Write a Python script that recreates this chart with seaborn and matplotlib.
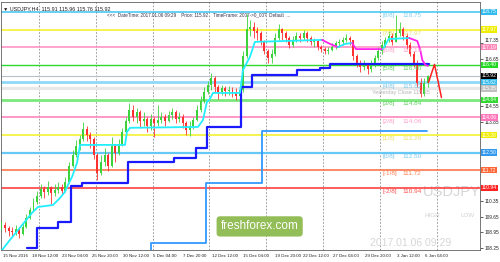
import numpy as np
import pandas as pd
import matplotlib
matplotlib.use('Agg')
import matplotlib.pyplot as plt
import matplotlib.transforms as mtransforms
import seaborn as sns

# ---------------- data ----------------
# composite candles (2 x H4 bars each); bar index = 2*i
close = [109.30, 109.15, 109.00, 108.95, 109.10, 108.90, 109.20, 109.60, 109.95, 110.30,
         110.55, 110.90, 110.75, 110.95, 110.70, 110.85, 110.95, 110.80, 111.20, 111.90,
         112.40, 112.80, 113.10, 113.55, 113.30, 113.10, 112.40, 111.60, 112.10, 112.40,
         111.90, 112.80, 112.50, 112.90, 113.40, 113.90, 114.40, 114.10, 114.30, 113.90,
         114.00, 113.70, 114.00, 113.80, 113.95, 114.10, 113.90, 114.15, 114.30, 114.00,
         114.10, 113.80, 113.50, 113.70, 113.95, 114.40, 114.80, 115.20, 115.50, 115.80,
         115.40, 115.20, 115.35, 115.25, 115.30, 115.15, 115.00, 115.30, 116.80, 118.00,
         118.10, 117.90, 117.80, 117.40, 117.00, 116.70, 116.90, 117.60, 118.00, 117.80,
         117.60, 117.30, 117.50, 117.70, 117.60, 117.80, 117.60, 117.40, 117.45, 117.20,
         117.10, 117.00, 117.05, 117.20, 117.35, 117.40, 117.50, 117.60, 117.50, 116.80,
         116.50, 116.30, 116.40, 116.20, 116.40, 116.70, 117.00, 117.30, 117.50, 117.70,
         117.40, 117.80, 118.00, 117.70, 117.30, 116.90, 116.50, 115.60, 115.10, 115.60,
         115.92]
high = [109.45, 109.40, 109.25, 109.20, 109.30, 109.15, 109.35, 109.75, 110.10, 110.50,
        110.80, 111.10, 111.00, 111.25, 111.00, 111.10, 111.20, 111.10, 111.40, 112.10,
        112.60, 113.05, 113.30, 113.86, 113.70, 113.40, 113.20, 112.50, 112.40, 112.70,
        112.50, 113.20, 112.90, 113.10, 113.60, 114.10, 114.70, 114.60, 114.50, 114.40,
        114.30, 114.10, 114.20, 114.10, 114.60, 114.30, 114.20, 114.35, 114.50, 114.40,
        114.30, 114.20, 113.90, 113.90, 114.10, 114.60, 115.00, 115.40, 115.70, 116.05,
        115.90, 115.50, 115.50, 115.45, 115.45, 115.40, 115.35, 115.45, 117.00, 118.65,
        118.40, 118.30, 118.10, 117.90, 117.50, 117.10, 117.10, 117.80, 118.20, 118.05,
        117.90, 117.70, 117.70, 117.85, 117.80, 117.95, 117.90, 117.70, 117.60, 117.50,
        117.30, 117.20, 117.20, 117.35, 117.45, 117.55, 117.65, 117.75, 117.70, 117.50,
        116.90, 116.60, 116.60, 116.50, 116.60, 116.85, 117.20, 117.45, 117.65, 117.90,
        117.80, 118.60, 118.30, 118.10, 117.80, 117.40, 117.00, 116.60, 115.80, 115.80,
        115.96]
low = [109.05, 108.95, 108.80, 108.75, 108.85, 108.70, 108.85, 109.15, 109.55, 109.90,
       110.20, 110.50, 110.50, 110.60, 110.20, 110.55, 110.70, 110.60, 110.75, 111.15,
       111.85, 112.30, 112.60, 113.00, 113.00, 112.70, 112.20, 111.30, 111.50, 111.90,
       111.70, 111.85, 112.10, 112.40, 112.80, 113.30, 113.80, 113.90, 113.80, 113.60,
       113.70, 113.40, 113.50, 113.20, 113.70, 113.80, 113.70, 113.85, 114.00, 113.80,
       113.85, 113.60, 113.30, 113.25, 113.55, 113.90, 114.30, 114.70, 115.10, 115.30,
       115.20, 114.90, 115.05, 115.00, 115.05, 114.95, 114.85, 114.80, 115.20, 116.70,
       117.70, 117.60, 117.50, 117.30, 116.90, 116.50, 116.50, 116.80, 117.50, 117.50,
       117.40, 117.15, 117.20, 117.40, 117.40, 117.50, 117.40, 117.30, 117.20, 117.05,
       116.95, 116.90, 116.90, 117.00, 117.10, 117.20, 117.30, 117.40, 117.30, 116.60,
       116.30, 116.10, 116.15, 116.00, 116.10, 116.30, 116.60, 116.90, 117.20, 117.40,
       117.30, 117.40, 117.70, 117.50, 117.10, 116.80, 116.30, 115.40, 114.95, 115.00,
       115.40]
first_open = 109.20

# Murrey math levels
mm_levels = [118.75, 117.97, 117.19, 116.40, 115.62, 114.84, 114.06, 113.28, 112.50, 111.72, 110.94]
mm_names = ['[8/8]', '[7/8]', '[6/8]', '[5/8]', '[4/8]', '[3/8]', '[2/8]', '[1/8]', '[0/8]', '[-1/8]', '[-2/8]']
mm_texts = ['118.75', '117.97', '117.19', '116.40', '115.62', '114.84', '114.06', '113.28', '112.50', '111.72', '110.94']
mm_colors = ['#3cc4f0', '#f4f020', '#ff8cc0', '#2ed82e', '#8fd8f8', '#7ae87a', '#ff7ab8', '#f4f020', '#66c8f4', '#ff6a3a', '#ff3030']
mm_widths = [1.1, 1.1, 1.1, 1.0, 2.0, 2.0, 1.1, 1.1, 1.6, 1.1, 1.1]
mm_text_colors = ['#7fd2f0', '#e8e070', '#ff9fc8', '#5fd05f', '#7fc8ea', '#5fcf5f', '#ff9fc8', '#e8e070', '#7fc8ea', '#ff8050', '#ff5050']
mm_box_colors = ['#33bbee', '#f0ee00', '#ff88bb', '#22d822', '#33bbee', '#33d833', '#ff77bb', '#f0ee00', '#3399ee', '#ff6633', '#ff2222']

current_price = 115.92
yesterday_close = 115.35

# trailing line (bar index, price, colour of following segment)
trail_b = [-0.3, 4.8, 17.2, 20.5, 29.0, 32.9, 35.7, 37.4, 39.7, 42.5, 44.2, 69.5, 70.6, 72.3, 110.6,
           113.4, 115.6, 117.3, 119.0, 134.2, 135.9, 139.8, 142.6, 180.4, 184.9, 189.4, 193.3, 197.3,
           199.5, 214.7, 217.9, 229.5, 234.0, 235.7, 236.8, 238.5, 240.0]
trail_p = [108.10, 108.62, 109.82, 110.08, 110.17, 110.48, 110.75, 111.06, 111.42, 112.04, 112.84,
           112.84, 113.42, 113.60, 113.64, 113.95, 114.75, 114.88, 115.15, 115.15, 116.17, 116.75,
           117.42, 117.51, 117.33, 117.19, 117.33, 117.37, 117.10, 117.10, 117.55, 117.59, 117.46,
           117.06, 116.62, 116.40, 116.35]
trail_c = ['c'] * 23 + ['m', 'm', 'c', 'c', 'm', 'm', 'c', 'c', 'm', 'm', 'm', 'm', 'm', 'm']

# dark blue step line
blue_b = [14.3, 20.0, 32.0, 39.0, 45.5, 71.0, 97.0, 109.5, 115.5, 135.0, 141.0, 166.5, 179.0, 185.0, 240.7]
blue_p = [108.26, 109.15, 109.42, 111.00, 111.15, 112.08, 112.26, 112.71, 113.64, 115.42, 115.95,
          116.17, 116.26, 116.42, 116.42]

# light blue step line
lblue_b = [83.5, 83.9, 115.2, 146.5, 239.5]
lblue_p = [107.90, 108.48, 111.15, 113.46, 113.46]

# forecast arrow
arrow_b = [240.3, 243.7, 247.6]
arrow_p = [115.62, 116.42, 114.95]

# axes labels
x_labels = ['15 Nov 2016', '18 Nov 12:00', '23 Nov 04:00', '25 Nov 20:00', '30 Nov 12:00', '5 Dec 04:00',
            '7 Dec 20:00', '12 Dec 12:00', '15 Dec 04:00', '19 Dec 20:00', '22 Dec 12:00', '27 Dec 04:00',
            '29 Dec 20:00', '3 Jan 12:00', '6 Jan 04:00']
x_label_pos = [0.8, 17.2, 34.0, 50.9, 68.4, 85.3, 102.1, 118.5, 135.9, 153.9, 169.7, 186.5, 204.6, 222.6, 238.3]
grid_pos = [21, 53, 85, 117, 149, 181, 213, 245]
y_ticks = [117.35, 116.65, 114.55, 113.85, 110.35, 109.65, 108.95, 108.25]

# ---------------- drawing ----------------
sns.set_style('white')
plt.rcParams['font.family'] = ['Liberation Sans', 'DejaVu Sans']

fig = plt.figure(figsize=(5, 2.62), dpi=100)
ax = fig.add_axes([0.002, 0.046, 0.958, 0.946])
ax.set_xlim(-0.28, 269.3)
ax.set_ylim(108.17, 119.19)

# grid
for g in grid_pos:
    ax.axvline(g, color='#8a8a8a', lw=0.6, ls=(0, (2, 2)), zorder=1)

# horizontal levels
ax.axhline(yesterday_close, color='#e8e8e8', lw=2.2, zorder=2)
ax.axhline(current_price, color='#b8c0c8', lw=0.8, zorder=2)
for lv, c, w in zip(mm_levels, mm_colors, mm_widths):
    ax.axhline(lv, color=c, lw=w, zorder=2)

# candles
opens = [first_open] + close[:-1]
df = pd.DataFrame({'b': [2 * i for i in range(len(close))], 'o': opens, 'c': close, 'h': high, 'l': low})
df['up'] = df['c'] >= df['o']
cols = np.where(df['up'], '#3cd23c', '#ff3030')
ax.vlines(df['b'], df['l'], df['h'], colors=cols, lw=0.6, zorder=3)
body = (df['c'] - df['o']).abs().clip(lower=0.03)
ax.bar(df['b'], body, bottom=np.minimum(df['o'], df['c']), width=1.1, color=cols, zorder=3, linewidth=0)

# step lines
sns.lineplot(x=blue_b, y=blue_p, ax=ax, color='#1a1aff', lw=1.6, drawstyle='steps-post', zorder=4, estimator=None, sort=False)
sns.lineplot(x=lblue_b, y=lblue_p, ax=ax, color='#3399ff', lw=1.3, drawstyle='steps-post', zorder=4, estimator=None, sort=False)

# trailing line coloured by state
seg_start = 0
for k in range(1, len(trail_b)):
    if k == len(trail_b) - 1 or trail_c[k] != trail_c[seg_start]:
        col = '#22eeff' if trail_c[seg_start] == 'c' else '#ff22ee'
        ax.plot(trail_b[seg_start:k + 1], trail_p[seg_start:k + 1], color=col, lw=1.3, zorder=5,
                solid_joinstyle='round')
        seg_start = k

# forecast arrow
ax.plot(arrow_b, arrow_p, color='#ff2020', lw=1.1, zorder=5)

# Murrey labels
for lv, nm, tx, tc in zip(mm_levels, mm_names, mm_texts, mm_text_colors):
    ax.annotate(nm, (214.7, lv), xytext=(0, -0.8), textcoords='offset points', fontsize=4.6,
                color=tc, va='top', ha='left', zorder=6)
    ax.annotate(tx, (225.4, lv), xytext=(0, -0.8), textcoords='offset points', fontsize=4.6,
                color=tc, va='top', ha='left', zorder=6)
ax.annotate('Yesterday Close 115.35', (208.5, yesterday_close), xytext=(0, -0.8), textcoords='offset points',
            fontsize=4.0, color='#b4b4b4', va='top', ha='left', zorder=6)

# header texts
ax.text(0.004, 0.985, '\u25bc USDJPY,H4  115.91 115.96 115.76 115.92', transform=ax.transAxes,
        fontsize=3.9, color='#202020', va='top', ha='left', zorder=7)
ax.text(0.222, 0.957, '<<<  DateTime: 2017.01.06 09:29    Price: 115.92    TimeFrame: 2007->0_00',
        transform=ax.transAxes, fontsize=3.3, color='#303050', va='top', ha='left', zorder=7)
ax.text(0.55, 0.957, '?  Default  ...', transform=ax.transAxes, fontsize=3.3, color='#303050',
        va='top', ha='left', zorder=7)

# watermarks
ax.text(0.94, 0.235, 'USDJPY', transform=ax.transAxes, fontsize=10.5, color='#d6d6d6', ha='center',
        va='center', zorder=1)
ax.text(0.9, 0.14, 'HIGH', transform=ax.transAxes, fontsize=4.5, color='#d0d0d0', ha='center', va='center', zorder=1)
ax.text(0.975, 0.14, 'LOW', transform=ax.transAxes, fontsize=4.5, color='#d0d0d0', ha='center', va='center', zorder=1)
ax.text(0.855, 0.03, '2017.01.06 09:29', transform=ax.transAxes, fontsize=7.5, color='#d6d6d6', ha='center',
        va='center', zorder=1)
ax.text(0.54, 0.095, 'freshforex.com', transform=ax.transAxes, fontsize=8.5, color='white', ha='center',
        va='center', zorder=6,
        bbox=dict(boxstyle='round,pad=0.35,rounding_size=0.3', fc='#93bd57', ec='none'))

# axes styling
ax.yaxis.tick_right()
ax.set_yticks(y_ticks)
ax.set_yticklabels([f'{v:.2f}' for v in y_ticks], fontsize=3.4, color='#202020')
ax.tick_params(axis='y', length=2, width=0.5, pad=1.5, colors='#202020')
ax.set_xticks(x_label_pos)
ax.set_xticklabels(x_labels, fontsize=3.2, color='#202020')
for t in ax.get_xticklabels():
    t.set_ha('left')
ax.tick_params(axis='x', length=1.5, width=0.5, pad=1.5)
for s in ax.spines.values():
    s.set_color('#606060')
    s.set_linewidth(0.6)

# nudge the 117.35 tick label up so it clears the 117.19 price box
lbl0 = ax.get_yticklabels()[0]
lbl0.set_transform(lbl0.get_transform() + mtransforms.ScaledTranslation(0, 2.5 / 72, fig.dpi_scale_trans))

# right-side price boxes
trans = mtransforms.blended_transform_factory(ax.transAxes, ax.transData)
box_vals = mm_levels + [current_price, yesterday_close]
box_txt = mm_texts + ['115.92', '115.35']
box_cols = mm_box_colors + ['#000000', '#c0c0c0']
for v, t, c in zip(box_vals, box_txt, box_cols):
    ax.text(1.004, v, t, transform=trans, fontsize=3.6, color='white', va='center', ha='left',
            clip_on=False, zorder=8, bbox=dict(boxstyle='square,pad=0.12', fc=c, ec='none'))

fig.savefig('out.png', dpi=100)
